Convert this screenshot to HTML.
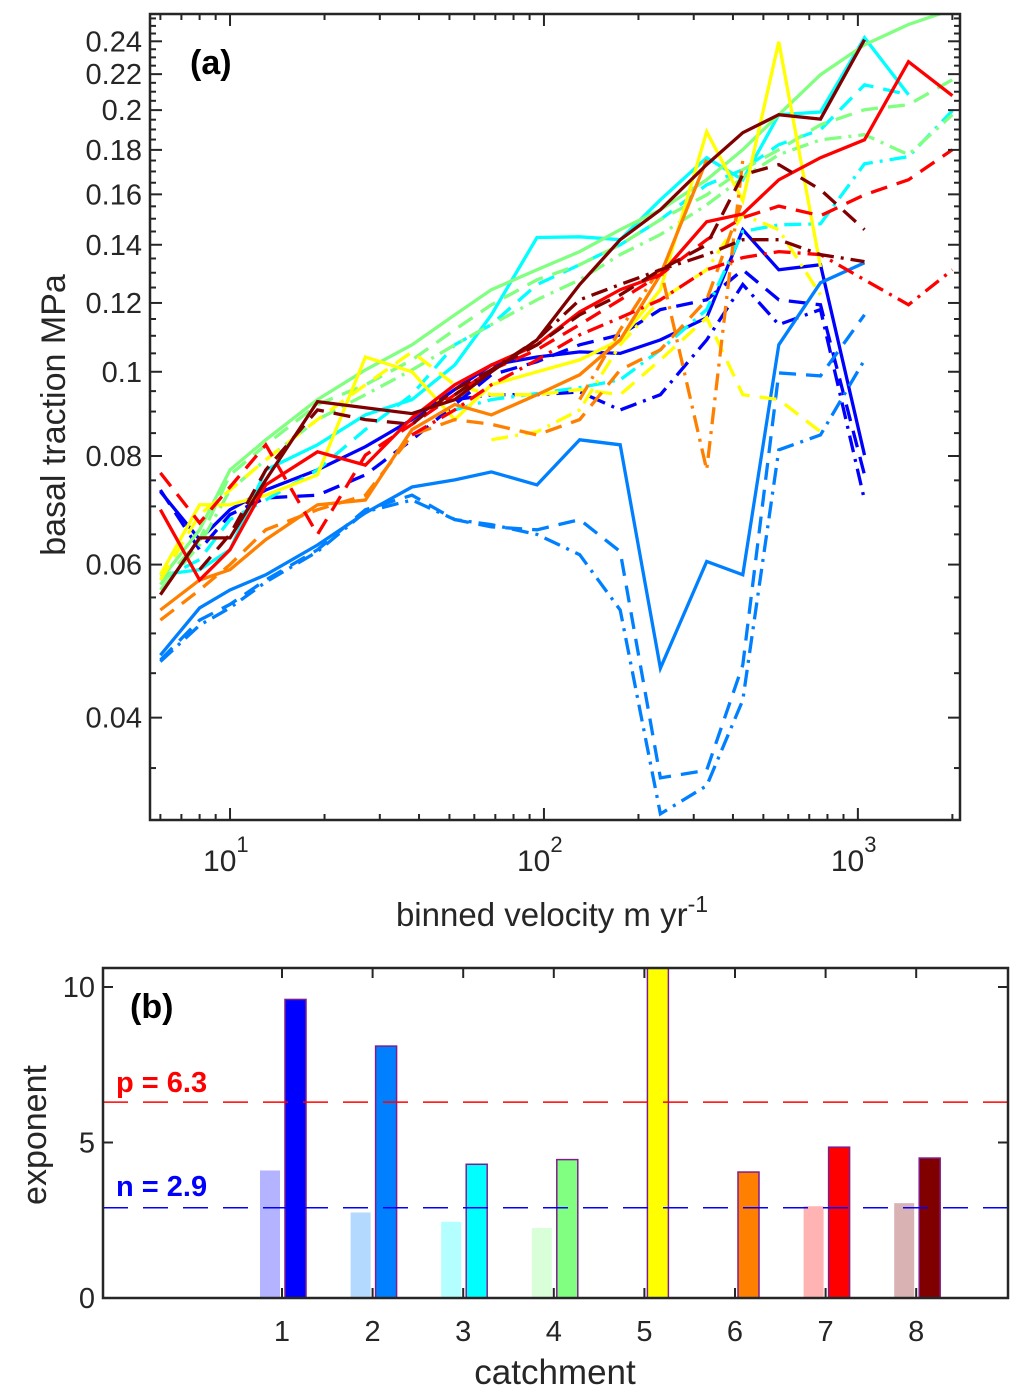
<!DOCTYPE html>
<html><head><meta charset="utf-8"><style>
body{margin:0;background:#fff}
svg{display:block;font-family:"Liberation Sans",Arial,sans-serif}
</style></head><body>
<svg id="chart" width="1028" height="1398" viewBox="0 0 1028 1398">
<g id="a-marks"></g>
<g id="a-axes"></g>
<g id="b-marks"></g>
<g id="b-axes"></g>
</svg>
<script>
// ---------- Panel (a) data ----------
const velocityBins = [6,8,10,13,19,27,38,52,68,95,130,175,235,330,430,560,760,1050,1450,2000];
const catchmentColors = ["#0000ff","#0080ff","#00ffff","#80ff80","#ffff00","#ff8000","#ff0000","#800000"];
const n = null;
const c1Solid  = [0.0728,0.0641,0.0694,0.0731,0.0771,0.082,0.0881,0.0954,0.1018,0.104,0.1054,0.105,0.1088,0.1154,0.1457,0.131,0.1328,0.0802,n,n];
const c1Dashed = [0.0731,0.0624,0.0685,0.0716,0.0721,0.0761,0.0835,0.0917,0.0992,0.1027,0.1074,0.1103,0.1179,0.121,0.131,0.121,0.1194,0.0761,n,n];
const c1DashDot= [n,n,n,n,n,n,n,0.0929,0.0941,0.0941,0.0948,0.0904,0.0941,0.1088,0.126,0.1133,0.1179,0.0712,n,n];
const c2Solid  = [0.0472,0.0535,0.0561,0.0584,0.0632,0.0688,0.0737,0.0751,0.0767,0.0741,0.0835,0.0824,0.0456,0.0605,0.0584,0.1074,0.1266,0.1335,n,n];
const c2Dashed = [0.0466,0.0518,0.054,0.0576,0.0624,0.0694,0.0721,0.0676,0.0663,0.0658,0.0676,0.0621,0.0341,0.0348,0.046,0.0997,0.0989,0.1163,n,n];
const c2DashDot= [0.0464,0.0511,0.0535,0.0573,0.0621,0.069,0.0712,0.0676,0.0667,0.065,0.0616,0.0532,0.031,0.0334,0.0419,0.0813,0.0846,0.1032,n,n];
const c3Solid  = [0.0584,0.0592,0.0624,0.0771,0.0824,0.0892,0.0929,0.1018,0.1163,0.1427,0.143,0.1419,0.1577,0.1763,0.1663,0.1976,0.199,0.2423,0.2083,n];
const c3Dashed = [0.0576,0.0608,0.0676,0.0712,0.0771,0.0858,0.0941,0.1074,0.1133,0.126,0.1328,0.14,0.1496,0.1641,0.1708,0.1825,0.1899,0.2139,0.2083,n];
const c3DashDot= [n,n,n,n,n,n,n,0.0904,0.0929,0.0944,0.0959,0.0979,0.106,0.1179,0.145,0.1476,0.148,0.1735,0.1768,0.1997];
const c4Solid  = [0.0576,0.0658,0.0771,0.0835,0.0929,0.1005,0.1074,0.1163,0.1243,0.131,0.1375,0.1457,0.1536,0.1663,0.1801,0.1976,0.2197,0.2378,0.2509,0.261];
const c4Dashed = [0.0569,0.0641,0.0761,0.0824,0.0917,0.0966,0.1032,0.1118,0.1194,0.1276,0.1328,0.14,0.1496,0.1598,0.1708,0.1801,0.1924,0.2002,0.2029,0.2168];
const c4DashDot= [0.0561,0.0632,0.0731,0.0792,0.0881,0.0941,0.1005,0.1074,0.1133,0.121,0.1276,0.1364,0.1438,0.1556,0.1672,0.1777,0.1849,0.1874,0.1777,0.1976];
const c5Solid  = [0.0584,0.0703,0.0703,0.0721,0.0761,0.104,0.1,0.0881,0.0966,0.1,0.1032,0.1088,0.1243,0.1889,0.1573,0.2397,0.132,n,n,n];
const c5Dashed = [0.0576,0.0685,0.0731,0.0792,0.0881,0.0966,0.1054,0.0966,0.0941,0.0941,0.0954,0.0941,0.1032,0.1154,0.0941,0.0929,0.0853,n,n,n];
const c5DashDot= [n,n,n,n,n,n,n,n,0.0835,0.0853,0.0904,0.1074,0.121,0.131,0.1516,0.1457,0.1226,n,n,n];
const c6Solid  = [0.0532,0.0576,0.0592,0.0641,0.0703,0.0712,0.0858,0.0917,0.0892,0.0941,0.0992,0.1088,0.1293,0.1754,n,n,n,n,n,n];
const c6Dashed = [0.0518,0.0561,0.06,0.0658,0.0694,0.0721,0.0846,0.0881,0.087,0.0846,0.0881,0.1005,0.106,0.121,0.1577,n,n,n,n,n];
const c6DashDot= [n,n,n,n,n,n,n,n,n,n,0.0929,0.1118,0.1317,0.0771,0.1754,n,n,n,n,n];
const c7Solid  = [0.0694,0.0576,0.0624,0.0741,0.0809,0.0781,0.0885,0.0966,0.1018,0.1074,0.1172,0.1243,0.1293,0.1488,0.1519,0.1663,0.1763,0.1849,0.2274,0.2078];
const c7Dashed = [0.0765,0.067,0.0737,0.0824,0.065,0.0802,0.087,0.0941,0.1005,0.106,0.1133,0.121,0.1293,0.1419,0.1504,0.1551,0.1512,0.1598,0.1663,0.1801];
const c7DashDot= [n,n,n,n,n,n,0.0846,0.0904,0.0966,0.1032,0.1103,0.1154,0.121,0.131,0.1353,0.1375,0.1364,0.1276,0.1194,0.131];
const c8Solid  = [0.0554,0.0644,0.0644,0.0751,0.0924,0.0909,0.0895,0.0929,0.1,0.1088,0.126,0.1419,0.1536,0.1731,0.1884,0.1976,0.1953,0.241,n,n];
const c8Dashed = [n,0.0592,0.065,0.0771,0.0904,0.0881,0.087,0.0954,0.1005,0.1074,0.1163,0.1226,0.131,0.14,0.1685,0.1731,0.162,0.1457,n,n];
const c8DashDot= [n,n,n,n,n,n,n,0.0941,0.1005,0.1088,0.121,0.126,0.131,0.1364,0.1419,0.1419,0.1364,0.1339,n,n];
const yTickLabels = ["0.04","0.06","0.08","0.1","0.12","0.14","0.16","0.18","0.2","0.22","0.24"];
const xTickLabels = ["1","2","3"];

// ---------- Panel (b) data ----------
const catchments = ["1","2","3","4","5","6","7","8"];
const exponentN = [4.1,2.75,2.45,2.25,0,0,2.95,3.05];
const exponentP = [9.6,8.1,4.3,4.45,10.7,4.05,4.85,4.5];
const lightColors = ["#b3b3ff","#b3d9ff","#b3ffff","#d9ffd9","#ffffb3","#ffd9b3","#ffb3b3","#d9b3b3"];
const meanP = 6.3, meanN = 2.9;
const bTickLabels = ["0","5","10"];

const NS="http://www.w3.org/2000/svg";
function mk(tag, attrs, parent){const e=document.createElementNS(NS,tag);for(const k in attrs)e.setAttribute(k,attrs[k]);parent.appendChild(e);return e;}

// axes a
const AX={l:150,r:960,t:14,b:820}, xmin=Math.log10(5.56), xmax=Math.log10(2115), ymin=Math.log10(0.0305), ymax=Math.log10(0.258);
const xA=v=>AX.l+(Math.log10(v)-xmin)/(xmax-xmin)*(AX.r-AX.l);
const yA=v=>AX.b-(Math.log10(v)-ymin)/(ymax-ymin)*(AX.b-AX.t);

const gA=document.getElementById('a-marks');
const series=[c1Solid,c1Dashed,c1DashDot,c2Solid,c2Dashed,c2DashDot,c3Solid,c3Dashed,c3DashDot,c4Solid,c4Dashed,c4DashDot,c5Solid,c5Dashed,c5DashDot,c6Solid,c6Dashed,c6DashDot,c7Solid,c7Dashed,c7DashDot,c8Solid,c8Dashed,c8DashDot];
const dashes=["","17,10","17,7,3,7"];
const styleNames=["solid","dashed","dashdot"];
mk('clipPath',{id:'clipA'},gA);
mk('rect',{x:AX.l,y:AX.t,width:AX.r-AX.l,height:AX.b-AX.t},gA.lastChild);
series.forEach((s,i)=>{
  const c=Math.floor(i/3), st=i%3;
  let d="",pen=false;
  s.forEach((v,j)=>{ if(v==null){pen=false;return;} d+=(pen?"L":"M")+xA(velocityBins[j]).toFixed(1)+","+yA(v).toFixed(1); pen=true; });
  const p=mk('path',{d:d,fill:'none',stroke:catchmentColors[c],'stroke-width':3.3,'stroke-dasharray':dashes[st],'clip-path':'url(#clipA)','stroke-linejoin':'miter'},gA);
  
  
});

const ga=document.getElementById('a-axes');
const ax=mk('rect',{x:AX.l,y:AX.t,width:AX.r-AX.l,height:AX.b-AX.t,fill:'none',stroke:'#262626','stroke-width':2.5},ga);

for(let k=7;k<=51;k++){const v=k*0.005;const y=yA(v);const major=(k%4===0);const L=major?12:6;
  mk('line',{x1:AX.l,x2:AX.l+L,y1:y,y2:y,stroke:'#262626','stroke-width':2},ga);
  mk('line',{x1:AX.r,x2:AX.r-L,y1:y,y2:y,stroke:'#262626','stroke-width':2},ga);}
yTickLabels.forEach(t=>{const e=mk('text',{x:AX.l-8,y:yA(parseFloat(t))+10,'text-anchor':'end','font-size':29,fill:'#262626'},ga);e.textContent=t;
  });
for(let dcd=0;dcd<=3;dcd++)for(let m=1;m<=9;m++){const v=m*Math.pow(10,dcd);if(v<5.56||v>2115)continue;const x=xA(v);const L=m===1?12:6;
  mk('line',{x1:x,x2:x,y1:AX.b,y2:AX.b-L,stroke:'#262626','stroke-width':2},ga);
  mk('line',{x1:x,x2:x,y1:AX.t,y2:AX.t+L,stroke:'#262626','stroke-width':2},ga);}
xTickLabels.forEach(t=>{const x=xA(Math.pow(10,+t));const e=mk('text',{x:x-27,y:871,'font-size':30,fill:'#262626'},ga);
  e.innerHTML='10<tspan dy="-19" font-size="22">'+t+'</tspan>';});
let t=mk('text',{x:552,y:926,'text-anchor':'middle','font-size':33,fill:'#262626'},ga);
t.innerHTML='binned velocity m yr<tspan dy="-14" font-size="23">-1</tspan>';
t=mk('text',{x:0,y:0,'text-anchor':'middle','font-size':34,fill:'#262626',transform:'translate(65,415) rotate(-90)'},ga);
t.textContent='basal traction MPa';
t=mk('text',{x:190,y:74,'font-size':34,'font-weight':'bold',fill:'#000'},ga);t.textContent='(a)';

// panel b
const BX={l:103,r:1008,t:968,b:1298};
const xB=i=>282+(i-1)*90.6;
const yB=v=>BX.b-Math.min(v,10.62)*31.1;
const gB=document.getElementById('b-marks');
catchments.forEach((c,i)=>{const cx=xB(+c);
  if(exponentN[i]>0){const r=mk('rect',{x:cx-22,y:yB(exponentN[i]),width:20,height:BX.b-yB(exponentN[i]),fill:lightColors[i]},gB);
    }
  const r2=mk('rect',{x:cx+3,y:yB(exponentP[i]),width:21,height:BX.b-yB(exponentP[i]),fill:catchmentColors[i],stroke:'#7e1e8c','stroke-width':1.5},gB);
  
});
const gb=document.getElementById('b-axes');
let ln=mk('line',{x1:BX.l,x2:BX.r,y1:yB(meanP),y2:yB(meanP),stroke:'#ff0000','stroke-width':1.5,'stroke-dasharray':'25,15'},gb);

ln=mk('line',{x1:BX.l,x2:BX.r,y1:yB(meanN),y2:yB(meanN),stroke:'#0000ff','stroke-width':1.5,'stroke-dasharray':'25,15'},gb);

t=mk('text',{x:116,y:yB(meanP)-10,'font-size':29,'font-weight':'bold',fill:'#ff0000'},gb);t.textContent='p = '+meanP;
t=mk('text',{x:116,y:yB(meanN)-12,'font-size':29,'font-weight':'bold',fill:'#0000ff'},gb);t.textContent='n = '+meanN;
const bf=mk('rect',{x:BX.l,y:BX.t,width:BX.r-BX.l,height:BX.b-BX.t,fill:'none',stroke:'#262626','stroke-width':2.5},gb);

bTickLabels.forEach(s=>{const y=yB(+s);mk('line',{x1:BX.l,x2:BX.l+10,y1:y,y2:y,stroke:'#262626','stroke-width':2},gb);
  mk('line',{x1:BX.r,x2:BX.r-10,y1:y,y2:y,stroke:'#262626','stroke-width':2},gb);
  const e=mk('text',{x:BX.l-8,y:y+10,'text-anchor':'end','font-size':29,fill:'#262626'},gb);e.textContent=s;
  });
catchments.forEach(c=>{const x=xB(+c);mk('line',{x1:x,x2:x,y1:BX.b,y2:BX.b-10,stroke:'#262626','stroke-width':2},gb);
  mk('line',{x1:x,x2:x,y1:BX.t,y2:BX.t+10,stroke:'#262626','stroke-width':2},gb);
  const e=mk('text',{x:x,y:1341,'text-anchor':'middle','font-size':29,fill:'#262626'},gb);e.textContent=c;
  });
t=mk('text',{x:555,y:1384,'text-anchor':'middle','font-size':35,fill:'#262626'},gb);t.textContent='catchment';
t=mk('text',{x:0,y:0,'text-anchor':'middle','font-size':34,fill:'#262626',transform:'translate(46,1135) rotate(-90)'},gb);t.textContent='exponent';
t=mk('text',{x:130,y:1018,'font-size':34,'font-weight':'bold',fill:'#000'},gb);t.textContent='(b)';
</script>
</body></html>
